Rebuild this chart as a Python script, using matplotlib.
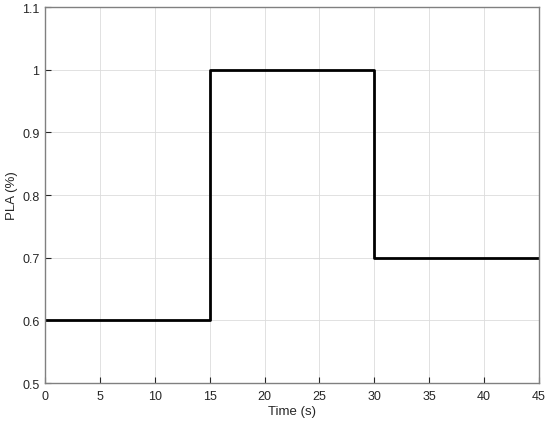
import matplotlib
matplotlib.use("Agg")
import matplotlib.pyplot as plt

# step input for PLA
time_s = [0, 15, 15, 30, 30, 45]
pla = [0.6, 0.6, 1.0, 1.0, 0.7, 0.7]
xticks = [0, 5, 10, 15, 20, 25, 30, 35, 40, 45]
yticks = [0.5, 0.6, 0.7, 0.8, 0.9, 1.0, 1.1]
yticklabels = ["0.5", "0.6", "0.7", "0.8", "0.9", "1", "1.1"]

plt.rcParams['font.family'] = ['Liberation Sans', 'DejaVu Sans']

fig = plt.figure(figsize=(5.5, 4.27), dpi=100)
ax = fig.add_axes([0.0818, 0.1007, 0.898, 0.880])

ax.plot(time_s, pla, color='black', linewidth=2)

ax.set_xlim(0, 45)
ax.set_ylim(0.5, 1.1)
ax.set_xticks(xticks)
ax.set_yticks(yticks)
ax.set_yticklabels(yticklabels)
ax.grid(True, color='#dcdcdc', linewidth=0.6)
ax.tick_params(direction='in', length=4, width=0.8, color='#262626',
               labelsize=9, labelcolor='#262626', top=False, right=False)
ax.tick_params(axis='x', pad=5)
ax.tick_params(axis='y', pad=4)
for s in ax.spines.values():
    s.set_color('#808080')
    s.set_linewidth(1.0)
ax.set_xlabel('Time (s)', fontsize=9.5, color='#262626', labelpad=2)
ax.set_ylabel('PLA (%)', fontsize=9.5, color='#262626', labelpad=3)

fig.savefig('out.png', dpi=100)
